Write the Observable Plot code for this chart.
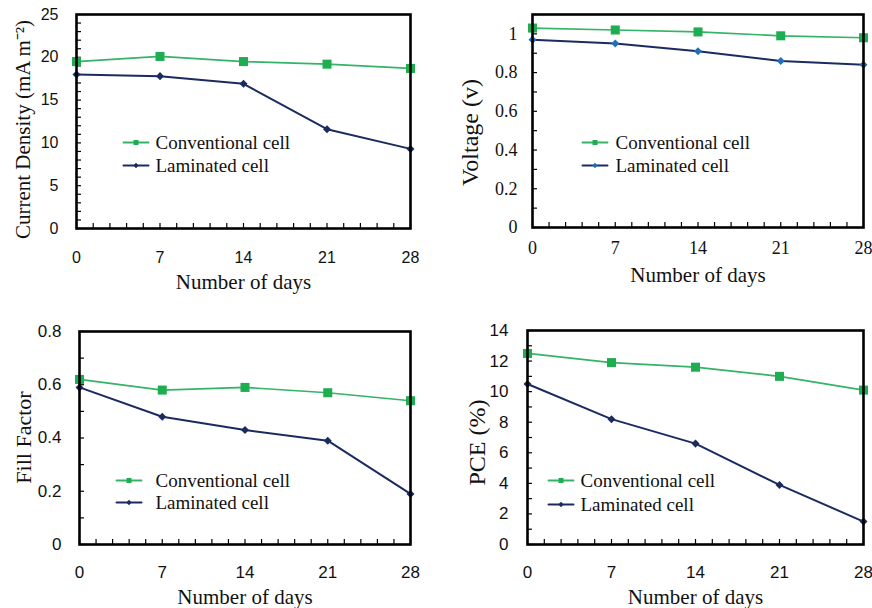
<!DOCTYPE html>
<html><head><meta charset="utf-8">
<script src="https://cdn.jsdelivr.net/npm/d3@7"></script>
<script src="https://cdn.jsdelivr.net/npm/@observablehq/plot@0.6"></script>
<style>
body{margin:0;background:#fff}
#wrap{position:relative;width:872px;height:608px;overflow:hidden;background:#fff}
#wrap svg{position:absolute;overflow:visible}
</style></head><body><div id="wrap"></div>
<script>
// ---- data ----
const days = [0, 7, 14, 21, 28];
const xTickLabels = [0, 7, 14, 21, 28];
const seriesNames = ["Conventional cell", "Laminated cell"];
const currentConventional = [19.5, 20.1, 19.5, 19.2, 18.7];
const currentLaminated = [18.0, 17.8, 16.9, 11.6, 9.3];
const voltageConventional = [1.03, 1.02, 1.01, 0.99, 0.98];
const voltageLaminated = [0.97, 0.95, 0.91, 0.86, 0.84];
const fillConventional = [0.62, 0.58, 0.59, 0.57, 0.54];
const fillLaminated = [0.59, 0.48, 0.43, 0.39, 0.19];
const pceConventional = [12.5, 11.9, 11.6, 11.0, 10.1];
const pceLaminated = [10.5, 8.2, 6.6, 3.9, 1.5];
const currentTicks = [0, 5, 10, 15, 20, 25];
const voltageTicks = [0, 0.2, 0.4, 0.6, 0.8, 1];
const fillTicks = [0, 0.2, 0.4, 0.6, 0.8];
const pceTicks = [0, 2, 4, 6, 8, 10, 12, 14];

const GREEN_LINE = "#33b466", GREEN_FILL = "#1fad52", NAVY = "#1b2b60";
const SERIF = "Liberation Serif, Times New Roman, serif";
const SANS = "Liberation Sans, Arial, sans-serif";
const xMinor = d3.range(0, 28.001, 1.4);
const fmt1 = d => d === 0 || d === 1 ? String(d) : d.toFixed(1);

function panel(c) {
  const conv = days.map((d, i) => ({day: d, v: c.conv[i]}));
  const lam = days.map((d, i) => ({day: d, v: c.lam[i]}));
  const fw = c.width - c.mL - c.mR, fh = c.height - c.mT - c.mB;
  const lineShape = {draw(ctx, l) { ctx.moveTo(0, 0); ctx.lineTo(0, -l); }};
  const legend = (i, color, marker) => [
    Plot.vector([0], {frameAnchor: "top-left", dx: c.legDx, dy: c.legDy[i], length: 25, rotate: 90, anchor: "start",
      shape: lineShape, stroke: color, strokeWidth: i === 0 ? 1.8 : 2}),
    Plot.dot([0], {frameAnchor: "top-left", dx: c.legDx + 12.5, dy: c.legDy[i], symbol: "square",
      r: i === 0 ? 2.8 : 2.1, rotate: i === 0 ? 0 : 45, fill: marker}),
    Plot.text([seriesNames[i]], {frameAnchor: "top-left", dx: c.legTextDx, dy: c.legDy[i], text: d => d,
      textAnchor: "start", lineAnchor: "middle", fontFamily: SERIF, fontSize: 19, fill: "#111"})
  ];
  const svg = Plot.plot({
    width: c.width, height: c.height,
    marginLeft: c.mL, marginRight: c.mR, marginTop: c.mT, marginBottom: c.mB,
    x: {domain: [0, 28], axis: null},
    y: {domain: c.yDomain, axis: null},
    style: {background: "transparent", overflow: "visible"},
    marks: [
      Plot.tickX(xMinor, {x: d => d, insetTop: fh - 5, stroke: "#000", strokeWidth: 1.2}),
      Plot.tickY(c.yMinor, {y: d => d, insetRight: fw - 5, stroke: "#000", strokeWidth: 1.2}),
      Plot.line(conv, {x: "day", y: "v", stroke: GREEN_LINE, strokeWidth: 1.7}),
      Plot.line(lam, {x: "day", y: "v", stroke: NAVY, strokeWidth: 2}),
      Plot.dot(conv, {x: "day", y: "v", symbol: "square", r: 5.1, fill: GREEN_FILL}),
      Plot.dot(lam, {x: "day", y: "v", symbol: "square", r: 3.2, rotate: 45, fill: c.lamMarker}),
      Plot.frame({stroke: "#000", strokeWidth: 2.6}),
      Plot.text(xTickLabels, {x: d => d, frameAnchor: "bottom", dy: c.xLabDy, text: d => String(d),
        lineAnchor: "middle", textAnchor: "middle", fontFamily: c.tickFont, fontSize: c.tickSize, fill: "#111"}),
      Plot.text(c.yTicks, {y: d => d, frameAnchor: "left", dx: c.yLabDx, text: c.yFmt,
        textAnchor: "end", lineAnchor: "middle", fontFamily: c.tickFont, fontSize: c.tickSize, fill: "#111"}),
      Plot.text([c.yTitle], {frameAnchor: "top-left", dx: c.yTitleDx, dy: c.yTitleDy, rotate: -90, text: d => d,
        textAnchor: "middle", lineAnchor: "middle", fontFamily: SERIF, fontSize: c.yTitleSize, fill: "#111"}),
      Plot.text(["Number of days"], {frameAnchor: "bottom", dy: c.xTitleDy, text: d => d,
        textAnchor: "middle", lineAnchor: "middle", fontFamily: SERIF, fontSize: 21, fill: "#111"}),
      ...legend(0, GREEN_LINE, GREEN_FILL),
      ...legend(1, NAVY, c.lamMarker)
    ]
  });
  svg.style.left = c.left + "px";
  svg.style.top = c.top + "px";
  document.getElementById("wrap").appendChild(svg);
}

panel({left: 0, top: 0, width: 436, height: 300, mL: 76, mR: 26, mT: 14, mB: 72,
  yDomain: [0, 25], yTicks: currentTicks, yMinor: d3.range(0, 25.001, 1), yFmt: d => String(d),
  conv: currentConventional, lam: currentLaminated, lamMarker: NAVY,
  tickFont: SANS, tickSize: 16, xLabDy: 29, yLabDx: -18,
  yTitle: "Current Density (mA m\u207B\u00B2)", yTitleSize: 21, yTitleDx: -53, yTitleDy: 115,
  xTitleDy: 54, legDx: 47, legTextDx: 79, legDy: [128, 151]});

panel({left: 436, top: 0, width: 436, height: 300, mL: 96, mR: 9, mT: 14, mB: 73,
  yDomain: [0, 1.1], yTicks: voltageTicks, yMinor: d3.range(0, 1.1001, 0.1), yFmt: fmt1,
  conv: voltageConventional, lam: voltageLaminated, lamMarker: "#1f6fbf",
  tickFont: SERIF, tickSize: 18, xLabDy: 21, yLabDx: -15,
  yTitle: "Voltage (v)", yTitleSize: 24, yTitleDx: -62, yTitleDy: 118,
  xTitleDy: 48, legDx: 50, legTextDx: 83, legDy: [128, 151]});

panel({left: 0, top: 300, width: 436, height: 308, mL: 79, mR: 26, mT: 31, mB: 64,
  yDomain: [0, 0.8], yTicks: fillTicks, yMinor: d3.range(0, 0.8001, 0.1), yFmt: fmt1,
  conv: fillConventional, lam: fillLaminated, lamMarker: NAVY,
  tickFont: SANS, tickSize: 17, xLabDy: 28, yLabDx: -18,
  yTitle: "Fill Factor", yTitleSize: 22, yTitleDx: -56, yTitleDy: 106,
  xTitleDy: 53, legDx: 37, legTextDx: 76, legDy: [149, 171]});

panel({left: 436, top: 300, width: 436, height: 308, mL: 91, mR: 9, mT: 30, mB: 64,
  yDomain: [0, 14], yTicks: pceTicks, yMinor: d3.range(0, 14.001, 1), yFmt: d => String(d),
  conv: pceConventional, lam: pceLaminated, lamMarker: NAVY,
  tickFont: SANS, tickSize: 17, xLabDy: 28, yLabDx: -19,
  yTitle: "PCE (%)", yTitleSize: 24, yTitleDx: -50, yTitleDy: 112,
  xTitleDy: 53, legDx: 21, legTextDx: 53, legDy: [150, 174]});
</script></body></html>
